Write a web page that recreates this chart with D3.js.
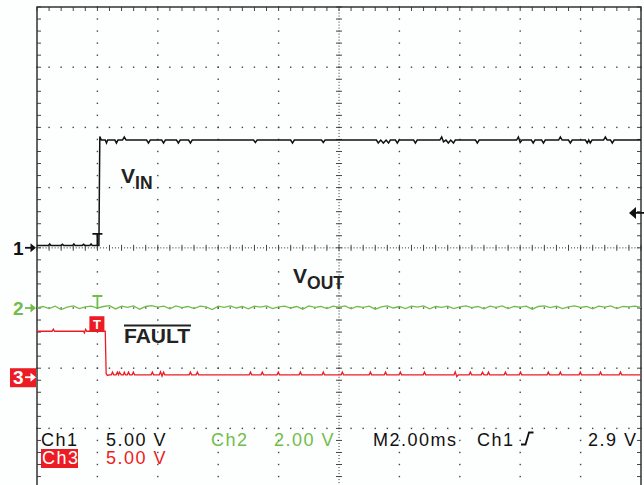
<!DOCTYPE html>
<html>
<head>
<meta charset="utf-8">
<script src="https://cdn.jsdelivr.net/npm/d3@7"></script>
<style>
  body { margin: 0; background: #fdfefe; }
  svg { display: block; font-family: "Liberation Sans", Arial, sans-serif; }
</style>
</head>
<body>
<div id="scope"></div>
<script>
// Time axis (ms), trigger at 0
const timeRange = [-2, 18];
const divsX = 10, divsY = 8;

// Channel settings
const ch1VoltsPerDiv = 5, ch2VoltsPerDiv = 2, ch3VoltsPerDiv = 5;
const ch1Ground = 4, ch2Ground = 5, ch3Ground = 6.15;   // divisions from top
const trigLevel = 2.9;

// Ch1 (VIN) [ms, V]
const ch1Points = [
  [-2.0,0.2],[-1.62,0.2],[-1.58,0.32],[-1.54,0.2],[-1.2,0.2],[-1.16,0.3],[-1.12,0.2],[-0.82,0.2],[-0.78,0.32],[-0.74,0.2],
  [-0.5,0.2],[-0.46,0.3],[-0.42,0.2],[-0.25,0.2],[-0.21,0.32],[-0.17,0.2],[0.05,0.2],
  [0.08,9.25],[0.13,8.95],[0.26,8.95],[0.3,8.7],[0.34,8.95],[0.58,8.95],[0.63,8.7],[0.68,8.95],[0.83,8.95],[0.89,9.2],[0.95,8.95],
  [1.63,8.95],[1.69,8.7],[1.75,8.95],[2.13,8.95],[2.19,8.7],[2.25,8.95],[2.62,8.95],[2.68,8.7],[2.74,8.95],[3.02,8.95],[3.08,8.7],[3.14,8.95],
  [5.17,8.95],[5.23,8.75],[5.29,8.95],[6.4,8.95],[6.46,8.7],[6.52,8.95],[7.42,8.95],[7.48,8.75],[7.54,8.95],
  [9.24,8.95],[9.3,8.7],[9.38,8.95],[9.47,8.7],[9.56,8.95],[9.64,8.7],[9.7,8.95],[9.87,8.95],[9.93,8.7],[9.99,8.95],[10.47,8.95],[10.53,8.7],[10.59,8.95],
  [11.34,8.95],[11.4,9.2],[11.46,8.8],[11.54,8.95],[11.62,8.7],[11.7,8.95],[11.79,8.7],[11.85,8.95],[12.52,8.95],[12.58,8.7],[12.64,8.95],
  [13.88,8.95],[13.94,9.2],[14.0,8.75],[14.06,8.95],[14.37,8.95],[14.43,8.7],[14.49,8.95],[14.71,8.95],[14.77,8.7],[14.83,8.95],
  [15.27,8.95],[15.33,9.2],[15.39,8.95],[15.6,8.95],[15.66,8.7],[15.72,8.95],[16.16,8.95],[16.22,8.7],[16.27,8.95],[16.32,8.7],[16.38,8.95],
  [16.76,8.95],[16.82,9.2],[16.88,8.95],[16.99,8.95],[17.05,8.7],[17.11,8.95],[18.0,8.95]
];

// Ch2 (VOUT) sampled every 0.2 ms from -2 ms [V]
const ch2Volts = [
  0,0.05,-0.02,0.06,-0.05,0.03,0.07,-0.02,0.04,0.06,
  0,0.05,0.08,-0.03,0.06,0.02,0.07,-0.04,0.05,0.08,
  0.03,0.06,-0.03,0.07,0.01,0.05,-0.02,0.06,0.04,-0.05,
  0.06,0.02,0.07,0,0.05,-0.03,0.06,0.03,0.07,-0.02,
  0.04,0.06,0,0.05,-0.04,0.07,0.02,0.05,-0.02,0.06,
  0.03,0.07,-0.03,0.05,0.02,0.06,-0.04,0.04,0.07,0,
  0.05,-0.02,0.06,0.03,0.07,-0.03,0.05,0.02,0.06,-0.02,
  0.04,0.07,0.01,0.05,-0.03,0.06,0.02,0.07,-0.02,0.05,
  0.03,0.06,-0.04,0.05,0.07,0.01,0.06,-0.02,0.04,0.07,
  0.02,0.05,-0.03,0.06,0.03,0.07,-0.02,0.05,0.04,0.06,0.02
];
const ch2Step = 0.2;

// Ch3 (FAULT) [ms, V]
const ch3Points = [
  [-2,3.82],[-1.5,3.82],[-1.46,4.0],[-1.42,3.82],[-0.46,3.82],[-0.43,3.68],[-0.39,3.98],[-0.35,3.82],[0.26,3.82],[0.29,0.3],[0.33,0.15],[0.4,0.2],
  [0.46,0.2],[0.5,0.42],[0.54,0.2],[0.62,0.2],[0.66,0.42],[0.7,0.2],[0.73,0.42],[0.79,0.2],[0.86,0.2],[0.89,0.42],[0.93,0.2],[0.99,0.2],[1.03,0.42],[1.07,0.2],[1.15,0.2],[1.19,0.42],[1.23,0.2],
  [1.78,0.2],[1.82,0.42],[1.86,0.2],[2.05,0.2],[2.09,0.45],[2.14,0.1],[2.19,0.42],[2.23,0.2],[3.04,0.2],[3.08,0.42],[3.12,0.2],[3.27,0.2],[3.31,0.42],[3.35,0.2],
  [5.03,0.2],[5.07,0.42],[5.11,0.2],[5.42,0.2],[5.46,0.42],[5.5,0.2],[5.95,0.2],[5.99,0.42],[6.03,0.2],[6.68,0.2],[6.72,0.42],[6.76,0.2],[7.44,0.2],[7.48,0.42],[7.52,0.2],[8.07,0.2],[8.11,0.42],[8.15,0.2],
  [9.0,0.2],[9.04,0.42],[9.08,0.2],[9.5,0.2],[9.54,0.42],[9.58,0.2],[9.99,0.2],[10.03,0.42],[10.07,0.2],[10.79,0.2],[10.83,0.42],[10.87,0.2],[11.81,0.2],[11.85,0.45],[11.9,0.05],[11.95,0.2],
  [12.31,0.2],[12.35,0.42],[12.39,0.2],[12.71,0.2],[12.75,0.42],[12.8,0.2],[12.91,0.2],[12.95,0.42],[12.99,0.2],[13.47,0.2],[13.51,0.42],[13.55,0.2],[13.97,0.2],[14.01,0.42],[14.05,0.2],
  [14.89,0.2],[14.93,0.42],[14.97,0.2],[15.29,0.2],[15.33,0.42],[15.37,0.2],[15.95,0.2],[15.99,0.42],[16.03,0.2],[16.62,0.2],[16.66,0.42],[16.7,0.2],[17.28,0.2],[17.32,0.42],[17.36,0.2],[18,0.2]
];

// Readout text
const readoutRow1 = [["Ch1", "#111"], ["5.00 V", "#111"], ["Ch2", "#72bd4a"], ["2.00 V", "#72bd4a"], ["M2.00ms", "#111"], ["Ch1", "#111"], ["2.9 V", "#111"]];
const readoutRow2 = [["Ch3", "#fff"], ["5.00 V", "#ec1c24"]];

const W = 644, H = 485;
const green = "#72bd4a", red = "#ec1c24", ink = "#111";

const svg = d3.select("#scope").append("svg").attr("width", W).attr("height", H);

// Scales
const gx = d3.scaleLinear().domain([0, divsX]).range([37, 641]);
const gy = d3.scaleLinear().domain([0, divsY]).range([7, 488.6]);
const x = d3.scaleLinear().domain(timeRange).range([gx(0), gx(divsX)]);
const chY = (ground, vdiv) => v => gy(ground - v / vdiv);
const y1 = chY(ch1Ground, ch1VoltsPerDiv), y2 = chY(ch2Ground, ch2VoltsPerDiv), y3 = chY(ch3Ground, ch3VoltsPerDiv);

// GRID
const grid = svg.append("g").attr("fill", "#444");
const minor = d3.range(0, divsX * 5 + 1).map(i => i / 5);
const minorY = d3.range(0, divsY * 5 + 1).map(i => i / 5);
d3.range(1, divsX).filter(k => k != 5).forEach(k => {
  grid.selectAll(null).data(minorY).enter().append("rect")
    .attr("x", gx(k) - 0.7).attr("y", d => gy(d) - 0.7).attr("width", 1.4).attr("height", 1.4);
});
d3.range(1, divsY).filter(k => k != 4).forEach(k => {
  grid.selectAll(null).data(minor).enter().append("rect")
    .attr("x", d => gx(d) - 0.7).attr("y", gy(k) - 0.7).attr("width", 1.4).attr("height", 1.4);
});

// center cross: dotted + ticks
const fine = d3.range(0, divsX * 20 + 1).map(i => i / 20);
const fineY = d3.range(0, divsY * 20 + 1).map(i => i / 20);
grid.selectAll(null).data(fine).enter().append("rect")
  .attr("x", d => gx(d) - 0.5).attr("y", gy(4) - 0.5).attr("width", 1).attr("height", 1.1);
grid.selectAll(null).data(fineY).enter().append("rect")
  .attr("x", gx(5) - 0.5).attr("y", d => gy(d) - 0.5).attr("width", 1.1).attr("height", 1);
const ticks = svg.append("g").attr("stroke", "#444").attr("stroke-width", 1);
ticks.selectAll(null).data(minor).enter().append("line")
  .attr("x1", d => gx(d)).attr("x2", d => gx(d)).attr("y1", gy(4) - 3).attr("y2", gy(4) + 3);
ticks.selectAll(null).data(minorY).enter().append("line")
  .attr("y1", d => gy(d)).attr("y2", d => gy(d)).attr("x1", gx(5) - 3).attr("x2", gx(5) + 3);

// border + inward ticks
ticks.selectAll(null).data(minor).enter().append("line")
  .attr("x1", d => gx(d)).attr("x2", d => gx(d)).attr("y1", gy(0)).attr("y2", gy(0) + 4);
ticks.selectAll(null).data(minorY).enter().append("line")
  .attr("y1", d => gy(d)).attr("y2", d => gy(d)).attr("x1", gx(0)).attr("x2", gx(0) + 4);
ticks.selectAll(null).data(minorY).enter().append("line")
  .attr("y1", d => gy(d)).attr("y2", d => gy(d)).attr("x1", gx(divsX) - 4).attr("x2", gx(divsX));
svg.append("rect")
  .attr("x", gx(0)).attr("y", gy(0)).attr("width", gx(divsX) - gx(0)).attr("height", gy(divsY) - gy(0))
  .attr("fill", "none").attr("stroke", "#333").attr("stroke-width", 1.5);

// TRACES
const line = (ys) => d3.line().x(d => x(d[0])).y(d => ys(d[1]));
svg.append("path").datum(ch2Volts.map((v, i) => [timeRange[0] + i * ch2Step, v]))
  .attr("d", line(y2)).attr("fill", "none").attr("stroke", green).attr("stroke-width", 1.3);
svg.append("path").datum(ch3Points)
  .attr("d", line(y3)).attr("fill", "none").attr("stroke", red).attr("stroke-width", 1.3);
svg.append("path").datum(ch1Points)
  .attr("d", line(y1)).attr("fill", "none").attr("stroke", ink).attr("stroke-width", 1.5);

// TRIGGER MARKERS
const tx = x(0);
function tMark(yb, color) {
  svg.append("path")
    .attr("d", `M${tx - 5},${yb - 12}H${tx + 5}M${tx},${yb - 12}V${yb}`)
    .attr("stroke", color).attr("stroke-width", 1.8).attr("fill", "none");
}
tMark(y1(0) - 2, ink);
tMark(y2(0), green);
svg.append("rect").attr("x", tx - 8).attr("y", y3(3.82) - 15).attr("width", 15).attr("height", 15).attr("fill", red);
svg.append("text").attr("x", tx - 0.5).attr("y", y3(3.82) - 2.5).attr("text-anchor", "middle")
  .attr("fill", "#fff").style("font-size", "13px").style("font-weight", 700).text("T");

// trigger level arrow (right edge)
const yt = y1(trigLevel);
svg.append("path").attr("d", `M${gx(divsX) - 12},${yt}L${gx(divsX) - 5},${yt - 6}V${yt + 6}Z`).attr("fill", ink);
svg.append("line").attr("x1", gx(divsX) - 6).attr("x2", W).attr("y1", yt).attr("y2", yt).attr("stroke", ink).attr("stroke-width", 1.8);

// CHANNEL GROUND MARKERS
function gMark(label, yy, color, boxed) {
  if (boxed) svg.append("rect").attr("x", 10).attr("y", yy - 9).attr("width", 26).attr("height", 19).attr("fill", red);
  const c = boxed ? "#fff" : color;
  svg.append("text").attr("x", 13).attr("y", yy + 7).attr("fill", c)
    .style("font-size", "19px").style("font-weight", 700).text(label);
  svg.append("path").attr("d", `M${25},${yy}H${33}`).attr("stroke", c).attr("stroke-width", 1.8);
  svg.append("path").attr("d", `M${36},${yy}L${30.5},${yy - 4.5}V${yy + 4.5}Z`).attr("fill", c);
}
gMark("1", y1(0), ink, false);
gMark("2", y2(0), green, false);
gMark("3", y3(0), red, true);

// SIGNAL LABELS
function subLabel(main, sub, lx, ly) {
  const t = svg.append("text").attr("x", lx).attr("y", ly).attr("fill", "#222").style("font-weight", 700);
  t.append("tspan").style("font-size", "21px").text(main);
  t.append("tspan").attr("dy", 6).style("font-size", "17.5px").text(sub);
}
subLabel("V", "IN", 121, 183);
subLabel("V", "OUT", 293, 283);
svg.append("text").attr("x", 124).attr("y", 343).attr("fill", "#222")
  .style("font-size", "21px").style("font-weight", 700).text("FAULT");
svg.append("line").attr("x1", 124).attr("x2", 191).attr("y1", 325.5).attr("y2", 325.5)
  .attr("stroke", "#222").attr("stroke-width", 1.8);

// READOUT
const row1X = [41, 106, 211, 274, 373, 477, 588];
const readout = svg.append("g").style("font-size", "18px").style("letter-spacing", "1.5px");
readout.selectAll(null).data(readoutRow1).enter().append("text")
  .attr("x", (d, i) => row1X[i]).attr("y", 445.5).attr("fill", d => d[1]).text(d => d[0]);
readout.append("rect").attr("x", 41).attr("y", 449).attr("width", 37).attr("height", 19).attr("fill", red);
const row2X = [42, 106];
readout.selectAll(null).data(readoutRow2).enter().append("text")
  .attr("x", (d, i) => row2X[i]).attr("y", 464).attr("fill", d => d[1]).text(d => d[0]);
// rising-edge symbol
svg.append("path").attr("d", "M521,444.5H525.5L529,432.5H533.5")
  .attr("stroke", ink).attr("stroke-width", 1.8).attr("fill", "none");
</script>
</body>
</html>
